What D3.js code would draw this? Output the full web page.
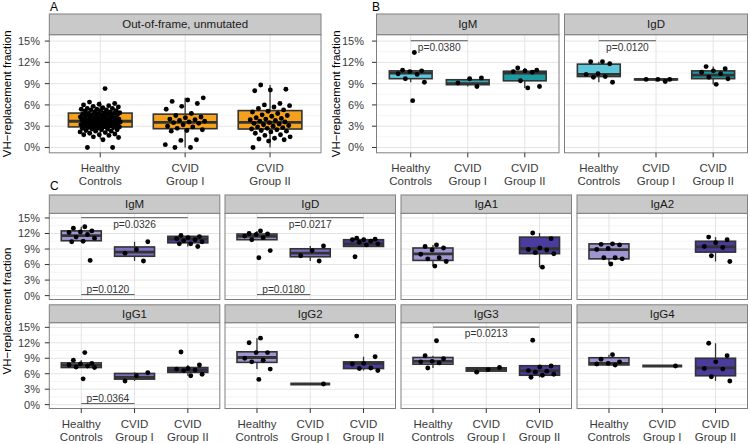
<!DOCTYPE html>
<html><head><meta charset="utf-8">
<script src="https://cdn.jsdelivr.net/npm/d3@7"></script>
<style>
body{margin:0;background:#fff}
svg{display:block}
text{font-family:"Liberation Sans",Arial,Helvetica,sans-serif}
</style>
</head><body>
<svg id="chart" width="750" height="444"></svg>
<script>
// ---------------- DATA ----------------
const groups = ["Healthy Controls", "CVID Group I", "CVID Group II"];
const groupLabelLines = [["Healthy", "Controls"], ["CVID", "Group I"], ["CVID", "Group II"]];
const yTickValues = [0, 3, 6, 9, 12, 15];
const yTickLabels = ["0%", "3%", "6%", "9%", "12%", "15%"];
const yTitle = "VH\u2212replacement fraction";

// Panel A: Out-of-frame, unmutated  (box stats: [lowWhisker, q1, median, q3, highWhisker])
const A_title = "Out-of-frame, unmutated";
const A_box = [[1.2, 2.9, 3.7, 4.85, 6.5], [0, 2.65, 3.55, 4.7, 7.0], [0, 2.6, 3.55, 5.2, 8.8]];
const A_healthy = [8.3, 6.4, 6.2, 6.1, 6.0, 5.9, 5.8, 5.7, 5.6, 5.5, 5.5, 5.4, 5.4, 5.3, 5.3, 5.2, 5.2, 5.1, 5.0, 5.0,
  4.9, 4.9, 4.8, 4.8, 4.8, 4.7, 4.7, 4.6, 4.6, 4.5, 4.5, 4.4, 4.4, 4.3, 4.3, 4.3, 4.2, 4.2, 4.1, 4.1,
  4.0, 4.0, 4.0, 3.9, 3.9, 3.9, 3.9, 3.8, 3.8, 3.8, 3.7, 3.7, 3.7, 3.6, 3.6, 3.6, 3.6, 3.5, 3.5, 3.5,
  3.4, 3.4, 3.4, 3.3, 3.3, 3.3, 3.2, 3.2, 3.2, 3.1, 3.1, 3.0, 3.0, 3.0, 2.9, 2.9, 2.9, 2.8, 2.8, 2.7,
  2.7, 2.6, 2.6, 2.5, 2.5, 2.4, 2.3, 2.3, 2.2, 2.1, 2.0, 1.9, 1.8, 1.8, 1.7, 1.5, 1.4, 1.1, 0.0, 0.0];
const A_cvid1 = [7.0, 6.7, 6.5, 6.2, 5.8, 5.4, 4.8, 4.5, 4.3, 4.2, 4.0, 3.9, 3.8, 3.7, 3.6, 3.5, 3.4, 3.2,
  3.0, 2.9, 2.7, 2.5, 2.4, 2.3, 1.1, 1.0, 0.4, 0.0, 0.0];
const A_cvid2 = [8.8, 8.2, 8.1, 8.0, 6.2, 6.0, 5.9, 5.7, 5.5, 5.3, 5.1, 5.0, 4.8, 4.6, 4.5, 4.4, 4.2, 4.1,
  4.0, 3.9, 3.8, 3.7, 3.6, 3.5, 3.4, 3.3, 3.2, 3.1, 3.0, 2.9, 2.8, 2.7, 2.6, 2.5, 2.4, 2.3, 2.2, 2.0,
  1.8, 1.7, 1.5, 1.3, 1.2, 1.1, 0.9, 0.0];

// Panel B
const B_titles = ["IgM", "IgD"];
const B_IgM_box = [[9.2, 9.7, 10.5, 10.8, 10.9], [8.6, 8.85, 9.0, 9.55, 9.8], [8.4, 9.4, 10.5, 10.75, 11.2]];
const B_IgM_points = [[13.4, 10.9, 10.8, 10.7, 10.4, 10.3, 9.7, 9.2, 6.6], [9.8, 9.7, 9.1, 8.6],
  [11.2, 10.9, 10.8, 10.7, 10.6, 9.4, 8.6, 8.4]];
const B_IgD_box = [[9.2, 10.0, 10.3, 11.75, 12.1], [9.3, 9.55, 9.6, 9.65, 9.65], [8.9, 9.7, 10.2, 10.8, 11.4]];
const B_IgD_points = [[12.1, 12.1, 11.8, 10.4, 10.3, 10.0, 9.9, 9.2], [9.6, 9.6, 9.6, 9.3],
  [11.4, 11.1, 10.8, 10.6, 10.4, 9.9, 9.7, 8.9]];

// Panel C
const C_titles = ["IgM", "IgD", "IgA1", "IgA2", "IgG1", "IgG2", "IgG3", "IgG4"];
const C_IgM_box = [[10.4, 10.6, 11.6, 12.5, 13.3], [6.7, 7.6, 8.4, 9.4, 10.4], [9.5, 10.2, 10.9, 11.45, 11.6]];
const C_IgM_points = [[13.3, 13.0, 12.5, 12.3, 12.2, 11.8, 11.3, 11.1, 10.5, 10.4, 6.8], [10.4, 8.9, 8.2, 6.7],
  [11.6, 11.4, 11.2, 11.0, 10.8, 10.6, 10.4, 10.0, 10.0, 9.5]];
const C_IgD_box = [[10.8, 10.8, 11.45, 11.9, 12.5], [6.7, 7.5, 8.2, 9.05, 9.6], [9.5, 9.5, 10.0, 10.8, 11.1]];
const C_IgD_points = [[12.5, 12.0, 11.9, 11.8, 11.5, 11.2, 10.8, 8.7, 7.3], [9.6, 8.7, 7.7, 6.7],
  [11.1, 10.9, 10.8, 10.8, 10.5, 10.3, 10.0, 9.8, 7.5]];
const C_IgA1_box = [[5.7, 6.8, 8.05, 9.2, 9.8], null, [5.5, 8.1, 9.05, 11.3, 12.1]];
const C_IgA1_points = [[9.8, 9.5, 9.2, 8.8, 8.0, 7.3, 7.1, 6.6, 5.7], [], [12.1, 11.0, 9.2, 8.9, 8.8, 8.3, 8.1, 5.5]];
const C_IgA2_box = [[6.1, 7.1, 8.9, 10.0, 10.0], null, [6.6, 8.4, 9.4, 10.5, 11.3]];
const C_IgA2_points = [[10.0, 9.9, 9.8, 9.1, 8.9, 7.3, 7.3, 7.1, 6.1], [], [11.3, 10.8, 10.2, 9.5, 9.3, 7.7, 6.6]];
const C_IgG1_box = [[7.2, 7.2, 7.6, 8.1, 8.6], [4.6, 4.95, 5.3, 6.05, 6.25], [5.6, 6.25, 6.7, 7.2, 7.7]];
const C_IgG1_points = [[10.1, 8.6, 8.0, 7.9, 7.7, 7.5, 7.3, 7.2, 5.0], [6.2, 5.6, 4.6],
  [10.2, 7.7, 7.0, 6.9, 6.7, 6.6, 5.9, 5.6]];
const C_IgG2_box = [[6.9, 8.2, 9.15, 10.25, 12.9], [4.0, 4.0, 4.0, 4.0, 4.0], [6.6, 7.0, 8.0, 8.3, 9.3]];
const C_IgG2_points = [[12.9, 12.0, 10.1, 10.1, 9.0, 8.6, 8.3, 6.9, 4.9], [4.0], [13.3, 9.3, 8.0, 7.9, 7.1, 7.0, 6.6]];
const C_IgG3_box = [[7.1, 7.85, 8.4, 9.15, 9.5], [6.3, 6.5, 6.85, 7.15, 7.2], [5.3, 5.7, 6.55, 7.55, 7.55]];
const C_IgG3_points = [[12.4, 9.5, 8.9, 8.4, 8.3, 8.1, 7.1], [7.2, 6.8, 6.3],
  [12.5, 7.5, 7.3, 6.6, 6.5, 6.3, 5.9, 5.7, 5.3]];
const C_IgG4_box = [[7.7, 7.7, 8.0, 9.1, 9.7], [7.5, 7.5, 7.5, 7.5, 7.5], [4.6, 5.6, 7.15, 9.0, 11.9]];
const C_IgG4_points = [[9.7, 8.8, 8.3, 8.0, 7.9, 7.7], [7.5], [11.9, 9.5, 8.3, 7.0, 6.9, 5.4, 4.6]];

// p-value annotations: [panel, facet, groupA, groupB, level(top|bottom), label]
const pTests = [
  ["B", "IgM", 0, 1, "top", "p=0.0380"],
  ["B", "IgD", 0, 1, "top", "p=0.0120"],
  ["C", "IgM", 0, 2, "top", "p=0.0326"],
  ["C", "IgM", 0, 1, "bottom", "p=0.0120"],
  ["C", "IgD", 0, 2, "top", "p=0.0217"],
  ["C", "IgD", 0, 1, "bottom", "p=0.0180"],
  ["C", "IgG1", 0, 1, "bottom", "p=0.0364"],
  ["C", "IgG3", 0, 2, "top", "p=0.0213"]
];

// ---------------- STYLE ----------------
const colA = ["#F6A11B", "#F6A11B", "#F6A11B"];
const colB = ["#5DC8DC", "#37A9B3", "#1B9AA1"];
const colC = ["#9E95D2", "#7B70C0", "#4A3B9F"];
const yDomain = [-0.75, 15.9];

const svg = d3.select("#chart");
svg.append("rect").attr("width", 750).attr("height", 444).attr("fill", "#fff");

function jit(i) { return (((i + 1) * 0.6180339887) % 1) * 2 - 1; }

function facet(o) {
  const g = svg.append("g");
  const x = d3.scalePoint().domain(groups).range([o.x0, o.x1]).padding(0.6);
  const step = x.step();
  const y = d3.scaleLinear().domain(yDomain).range([o.y1, o.y0]);
  g.append("rect").attr("x", o.x0).attr("y", o.y0).attr("width", o.x1 - o.x0).attr("height", o.y1 - o.y0).attr("fill", "#fff");
  const minor = yTickValues.slice(0, -1).map((v, i) => (v + yTickValues[i + 1]) / 2);
  g.selectAll(null).data(minor).enter().append("line")
    .attr("x1", o.x0).attr("x2", o.x1).attr("y1", d => y(d)).attr("y2", d => y(d))
    .attr("stroke", "#f3f3f3").attr("stroke-width", 0.8);
  g.selectAll(null).data(yTickValues).enter().append("line")
    .attr("x1", o.x0).attr("x2", o.x1).attr("y1", d => y(d)).attr("y2", d => y(d))
    .attr("stroke", "#e4e4e4").attr("stroke-width", 1);
  g.selectAll(null).data(groups).enter().append("line")
    .attr("x1", d => x(d)).attr("x2", d => x(d)).attr("y1", o.y0).attr("y2", o.y1)
    .attr("stroke", "#e4e4e4").attr("stroke-width", 1);
  const bw = step * 0.75;
  o.box.forEach((b, i) => {
    if (!b) return;
    const cx = x(groups[i]);
    g.append("line").attr("x1", cx).attr("x2", cx).attr("y1", y(b[0])).attr("y2", y(b[4]))
      .attr("stroke", "#333").attr("stroke-width", 1.3);
    g.append("rect").attr("x", cx - bw / 2).attr("width", bw)
      .attr("y", y(b[3])).attr("height", Math.max(0, y(b[1]) - y(b[3])))
      .attr("fill", o.colors[i]).attr("stroke", "#333").attr("stroke-width", 1.6);
    g.append("line").attr("x1", cx - bw / 2).attr("x2", cx + bw / 2).attr("y1", y(b[2])).attr("y2", y(b[2]))
      .attr("stroke", "#333").attr("stroke-width", 2.8);
  });
  o.points.forEach((arr, i) => {
    const cx = x(groups[i]);
    g.selectAll(null).data(arr).enter().append("circle")
      .attr("cx", (d, j) => cx + jit(j + i * 7) * o.jw * step)
      .attr("cy", d => y(d)).attr("r", 2.45).attr("fill", "#000");
  });
  pTests.filter(p => p[0] === o.panel && p[1] === o.title).forEach(p => {
    const xa = x(groups[p[2]]), xb = x(groups[p[3]]);
    const ly = p[4] === "top" ? y(15.05) : y(0.2);
    g.append("line").attr("x1", xa).attr("x2", xb).attr("y1", ly).attr("y2", ly)
      .attr("stroke", "#5a5a5a").attr("stroke-width", 1);
    g.append("text").attr("x", (xa + xb) / 2).attr("y", p[4] === "top" ? ly + 10 : ly - 1.8)
      .attr("text-anchor", "middle").attr("font-size", 10.2).attr("fill", "#333").text(p[5]);
  });
  g.append("rect").attr("x", o.x0).attr("y", o.y0).attr("width", o.x1 - o.x0).attr("height", o.y1 - o.y0)
    .attr("fill", "none").attr("stroke", "#808080").attr("stroke-width", 1);
  g.append("rect").attr("x", o.x0).attr("y", o.sy).attr("width", o.x1 - o.x0).attr("height", o.y0 - o.sy)
    .attr("fill", "#c9c9c9").attr("stroke", "#808080").attr("stroke-width", 1);
  g.append("text").attr("x", (o.x0 + o.x1) / 2).attr("y", (o.sy + o.y0) / 2 + 4)
    .attr("text-anchor", "middle").attr("font-size", 11.5).attr("fill", "#1a1a1a").text(o.title);
  if (o.yAxis) {
    const ya = g.append("g");
    ya.selectAll(null).data(yTickValues).enter().append("line")
      .attr("x1", o.x0 - 4.5).attr("x2", o.x0).attr("y1", d => y(d)).attr("y2", d => y(d))
      .attr("stroke", "#333").attr("stroke-width", 1);
    ya.selectAll(null).data(yTickValues).enter().append("text")
      .attr("x", o.ylx).attr("y", d => y(d) + 3.9).attr("text-anchor", "end")
      .attr("font-size", 11).attr("fill", "#3a3a3a").text((d, i) => yTickLabels[i]);
  }
  if (o.xAxis) {
    const xa = g.append("g");
    xa.selectAll(null).data(groups).enter().append("line")
      .attr("x1", d => x(d)).attr("x2", d => x(d)).attr("y1", o.y1).attr("y2", o.y1 + 4.5)
      .attr("stroke", "#333").attr("stroke-width", 1);
    groups.forEach((gname, i) => {
      groupLabelLines[i].forEach((line, k) => {
        xa.append("text").attr("x", x(gname)).attr("y", o.y1 + 19 + k * 13)
          .attr("text-anchor", "middle").attr("font-size", 11.5).attr("fill", "#3a3a3a").text(line);
      });
    });
  }
}

facet({panel: "A", title: A_title, x0: 49.3, x1: 321, sy: 14, y0: 34.7, y1: 152.8,
  box: A_box, points: [A_healthy, A_cvid1, A_cvid2], colors: colA, jw: 0.24, yAxis: true, xAxis: true, ylx: 40});

const Bboxes = [B_IgM_box, B_IgD_box], Bpoints = [B_IgM_points, B_IgD_points];
const Bx = [[376.5, 559], [564.5, 747.5]];
B_titles.forEach((t, i) => facet({panel: "B", title: t, x0: Bx[i][0], x1: Bx[i][1], sy: 14, y0: 34.7, y1: 152.8,
  box: Bboxes[i], points: Bpoints[i], colors: colB, jw: 0.27, yAxis: i === 0, xAxis: true, ylx: 364}));

const Cboxes = [C_IgM_box, C_IgD_box, C_IgA1_box, C_IgA2_box, C_IgG1_box, C_IgG2_box, C_IgG3_box, C_IgG4_box];
const Cpoints = [C_IgM_points, C_IgD_points, C_IgA1_points, C_IgA2_points, C_IgG1_points, C_IgG2_points, C_IgG3_points, C_IgG4_points];
const CcolX = [49.3, 225, 401, 577], Cw = 170.5;
const Crow = [{sy: 195, y0: 213.3, y1: 299.5}, {sy: 304.8, y0: 322.7, y1: 408.5}];
C_titles.forEach((t, i) => {
  const c = i % 4, r = Math.floor(i / 4);
  facet({panel: "C", title: t, x0: CcolX[c], x1: CcolX[c] + Cw, sy: Crow[r].sy, y0: Crow[r].y0, y1: Crow[r].y1,
    box: Cboxes[i], points: Cpoints[i], colors: colC, jw: 0.28, yAxis: c === 0, xAxis: r === 1, ylx: 40});
});

function ytitle(xb, yc) {
  svg.append("text").attr("transform", `translate(${xb},${yc}) rotate(-90)`)
    .attr("text-anchor", "middle").attr("font-size", 11.5).attr("fill", "#000").text(yTitle);
}
ytitle(10.5, 93.8);
ytitle(339.5, 93.8);
ytitle(10.5, 311);

[["A", 50, 11], ["B", 372, 11], ["C", 50, 190]].forEach(l =>
  svg.append("text").attr("x", l[1]).attr("y", l[2]).attr("font-size", 12).attr("fill", "#000").text(l[0]));
</script>
</body></html>
